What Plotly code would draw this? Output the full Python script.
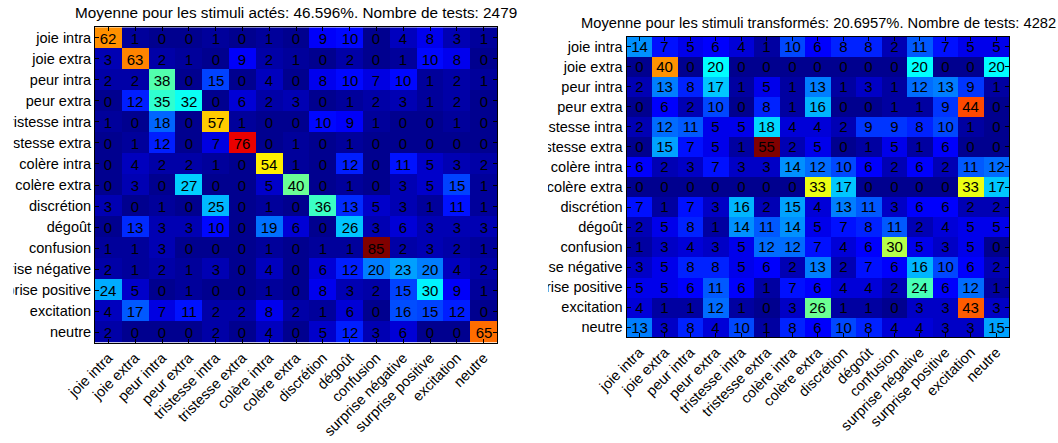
import plotly.graph_objects as go

# Emotion categories (rows = presented stimulus, columns = answer given)
labels = [
    "joie intra", "joie extra", "peur intra", "peur extra",
    "tristesse intra", "tristesse extra", "colère intra", "colère extra",
    "discrétion", "dégoût", "confusion", "surprise négative",
    "surprise positive", "excitation", "neutre",
]

# Recognition rates (%) for acted stimuli
acted = [
    [62, 1, 0, 0, 1, 0, 1, 0, 9, 10, 0, 4, 8, 3, 1],
    [3, 63, 2, 1, 0, 9, 2, 1, 0, 2, 0, 1, 10, 8, 0],
    [2, 2, 38, 0, 15, 0, 4, 0, 8, 10, 7, 10, 1, 2, 1],
    [0, 12, 35, 32, 0, 6, 2, 3, 0, 1, 2, 3, 1, 2, 0],
    [1, 0, 18, 0, 57, 1, 0, 0, 10, 9, 1, 0, 0, 1, 0],
    [0, 1, 12, 0, 7, 76, 0, 1, 0, 1, 0, 0, 0, 0, 0],
    [0, 4, 2, 2, 1, 0, 54, 1, 0, 12, 0, 11, 5, 3, 2],
    [0, 3, 0, 27, 0, 0, 5, 40, 0, 1, 0, 3, 5, 15, 1],
    [3, 0, 1, 0, 25, 0, 1, 0, 36, 13, 5, 3, 1, 11, 1],
    [0, 13, 3, 3, 10, 0, 19, 6, 0, 26, 3, 6, 3, 3, 3],
    [1, 1, 3, 0, 0, 0, 1, 0, 1, 1, 85, 2, 3, 2, 1],
    [2, 1, 2, 1, 3, 0, 4, 0, 6, 12, 20, 23, 20, 4, 2],
    [24, 5, 0, 1, 0, 0, 1, 0, 8, 3, 2, 15, 30, 9, 1],
    [4, 17, 7, 11, 2, 2, 8, 2, 1, 6, 0, 16, 15, 12, 0],
    [2, 0, 0, 0, 2, 0, 4, 0, 5, 12, 3, 6, 0, 0, 65],
]

# Recognition rates (%) for transformed stimuli
transformed = [
    [14, 7, 5, 6, 4, 1, 10, 6, 8, 8, 2, 11, 7, 5, 5],
    [0, 40, 0, 20, 0, 0, 0, 0, 0, 0, 0, 20, 0, 0, 20],
    [2, 13, 8, 17, 1, 5, 1, 13, 1, 3, 1, 12, 13, 9, 1],
    [0, 6, 2, 10, 0, 8, 1, 16, 0, 0, 1, 1, 9, 44, 0],
    [2, 12, 11, 5, 5, 18, 4, 4, 2, 9, 9, 8, 10, 1, 0],
    [0, 15, 7, 5, 1, 55, 2, 5, 0, 1, 5, 1, 6, 0, 0],
    [6, 2, 3, 7, 3, 3, 14, 12, 10, 6, 2, 6, 2, 11, 12],
    [0, 0, 0, 0, 0, 0, 0, 33, 17, 0, 0, 0, 0, 33, 17],
    [7, 1, 7, 3, 16, 2, 15, 4, 13, 11, 3, 6, 6, 2, 2],
    [2, 5, 8, 1, 14, 11, 14, 5, 7, 8, 11, 2, 4, 5, 5],
    [1, 3, 4, 3, 5, 12, 12, 7, 4, 6, 30, 5, 3, 5, 0],
    [3, 5, 8, 8, 5, 6, 2, 13, 2, 7, 6, 16, 10, 6, 2],
    [5, 5, 6, 11, 6, 1, 7, 6, 4, 4, 2, 24, 6, 12, 1],
    [4, 1, 1, 12, 1, 0, 3, 26, 1, 1, 0, 3, 3, 43, 3],
    [13, 3, 8, 4, 10, 1, 8, 6, 10, 8, 4, 4, 3, 3, 15],
]

title_acted = "Moyenne pour les stimuli actés: 46.596%. Nombre de tests: 2479"
title_transformed = "Moyenne pour les stimuli transformés: 20.6957%. Nombre de tests: 4282"

W, H = 1058, 443
FONT = "Liberation Sans, Arial, Helvetica, sans-serif"
LABEL_SIZE = 14.5
CELL_SIZE = 15

# MATLAB-style jet colormap
jet = [
    [0.0, "rgb(0,0,143)"],
    [7 / 63, "rgb(0,0,255)"],
    [23 / 63, "rgb(0,255,255)"],
    [39 / 63, "rgb(255,255,0)"],
    [55 / 63, "rgb(255,0,0)"],
    [1.0, "rgb(128,0,0)"],
]


def fx(px):
    return px / W


def fy(px):
    return 1 - px / H


fig = go.Figure()

panels = [
    (acted, "x", "y"),
    (transformed, "x2", "y2"),
]
for z, xa, ya in panels:
    fig.add_trace(go.Heatmap(
        z=z, x=labels, y=labels,
        colorscale=jet, zmin=0, zmax=max(max(r) for r in z),
        showscale=False,
        texttemplate="%{z}",
        textfont=dict(color="black", size=CELL_SIZE, family=FONT),
        xaxis=xa, yaxis=ya,
        hoverinfo="skip",
    ))

axis_common = dict(
    automargin=False,
    showline=True, linecolor="black", linewidth=1, mirror="allticks",
    ticks="inside", ticklen=4, tickwidth=1, tickcolor="black",
    showgrid=False, zeroline=False,
    tickfont=dict(family=FONT, size=LABEL_SIZE, color="black"),
    type="category", categoryorder="array", categoryarray=labels,
)

fig.update_layout(
    template="none",
    width=W, height=H,
    margin=dict(l=0, r=0, t=0, b=0, autoexpand=False),
    paper_bgcolor="white", plot_bgcolor="white",
    showlegend=False,
    xaxis=dict(axis_common, domain=[fx(95), fx(497)], anchor="y", tickangle=-45),
    yaxis=dict(axis_common, domain=[fy(342.7), fy(27.3)], anchor="x", autorange="reversed"),
    xaxis2=dict(axis_common, domain=[fx(626.5), fx(1009)], anchor="y2", tickangle=-45),
    yaxis2=dict(axis_common, domain=[fy(337.3), fy(36.7)], anchor="x2", autorange="reversed"),
)

# Panel titles
fig.add_annotation(text=title_acted, xref="paper", yref="paper",
                   x=fx(296), y=fy(12.5), xanchor="center", yanchor="middle",
                   showarrow=False, font=dict(family=FONT, size=15.3, color="black"))
fig.add_annotation(text=title_transformed, xref="paper", yref="paper",
                   x=fx(818), y=fy(23.5), xanchor="center", yanchor="middle",
                   showarrow=False, font=dict(family=FONT, size=14.7, color="black"))

# Row labels are cut where the axes boxes end
fig.add_shape(type="rect", xref="paper", yref="paper", layer="above",
              x0=fx(-2), x1=fx(13.5), y0=fy(345), y1=fy(22),
              fillcolor="white", line=dict(width=0))
fig.add_shape(type="rect", xref="paper", yref="paper", layer="above",
              x0=fx(499), x1=fx(548), y0=fy(340), y1=fy(32),
              fillcolor="white", line=dict(width=0))

fig.write_html("out.html")
